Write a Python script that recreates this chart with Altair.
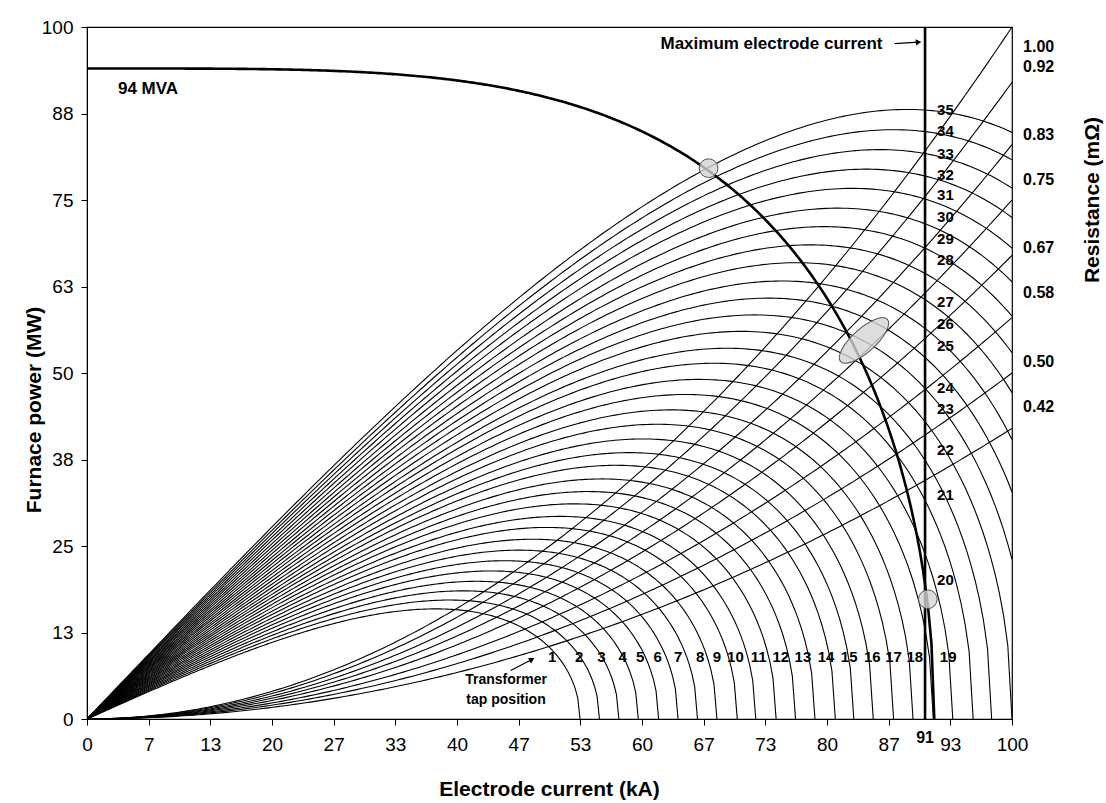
import numpy as np
import pandas as pd
import altair as alt

# ---------------- values ----------------
tap_numbers = list(range(1, 36))
# current (kA) where each tap curve meets zero power (read on the x axis;
# the taps that leave the frame on the right are estimated from their heights)
tap_end_current = [53.3, 55.4, 57.5, 59.6, 61.8, 63.9, 66.0, 68.1, 70.3, 72.3,
                   74.5, 76.6, 78.7, 80.9, 82.9, 85.0, 87.2, 89.3, 91.5, 93.6,
                   95.8, 97.8, 100.0, 102.1, 104.2, 106.3, 108.5, 110.6, 112.7, 114.8,
                   117.0, 119.1, 121.2, 123.3, 125.4]
resistance_labels = ["1.00", "0.92", "0.83", "0.75", "0.67", "0.58", "0.50", "0.42"]
resistance_power_at_100kA = [100, 92, 83, 75, 67, 58, 50, 42]   # MW where each line meets the right edge
resistance_label_y = [97.1, 94.2, 84.4, 77.9, 68.0, 61.5, 51.6, 45.1]
mva_rating = 94            # MVA curve level
mva_zero_current = 91.6    # kA where the 94 MVA curve reaches 0 MW
max_current = 90.6         # kA, "Maximum electrode current"

right_tap_labels = list(range(20, 36))
right_tap_label_y = [20.1, 32.4, 38.9, 44.8, 47.8, 53.9, 57.1, 60.2, 66.3, 69.4,
                     72.5, 75.7, 78.6, 81.7, 84.9, 88.0]
bottom_tap_labels = list(range(1, 20))
bottom_tap_label_x = [50.3, 53.2, 55.6, 57.9, 59.8, 61.7, 63.9, 66.3, 68.1, 70.1,
                      72.6, 75.0, 77.4, 79.9, 82.4, 84.9, 87.2, 89.5, 93.1]
bottom_tap_label_y = 8.9

marker_x = [67.2, 90.9]
marker_y = [79.6, 17.3]
ellipse_x = [84.0]
ellipse_y = [54.7]

x_tick_values = [i * 100 / 15 for i in range(16)]
y_tick_values = [i * 12.5 for i in range(9)]

FONT = "Liberation Sans"
W, H = 925, 692

# ---------------- build tables ----------------
reactance = mva_rating / mva_zero_current ** 2   # MVAr per kA^2 (circle diagram)

rows = []
for tap, isc in zip(tap_numbers, tap_end_current):
    end = min(isc, 100.0)
    cur = np.linspace(0, end, 220)
    p = reactance * cur * np.sqrt(np.clip(isc ** 2 - cur ** 2, 0, None))
    for c, v in zip(cur, p):
        rows.append({"I": c, "P": v, "tap": tap})
taps_df = pd.DataFrame(rows)

rows = []
for lab, pend in zip(resistance_labels, resistance_power_at_100kA):
    cur = np.linspace(0, 100, 200)
    for c in cur:
        rows.append({"I": c, "P": pend * (c / 100) ** 2, "R": lab})
res_df = pd.DataFrame(rows)

cur = np.linspace(0, mva_zero_current, 300)
mva_df = pd.DataFrame({"I": cur, "P": np.sqrt(np.clip(mva_rating ** 2 - (reactance * cur ** 2) ** 2, 0, None))})

xs = alt.Scale(domain=[0, 100], nice=False, zero=True)
ys = alt.Scale(domain=[0, 100], nice=False, zero=True)

x_axis = alt.Axis(values=x_tick_values, labelExpr="format(datum.value, '.0f')", title=None,
                  grid=False, tickSize=6, labelPadding=10, labelFontSize=19, labelFont=FONT,
                  labelColor="black", domainColor="black", tickColor="black", labelFlush=False)
y_axis = alt.Axis(values=y_tick_values, labelExpr="format(datum.value, '.0f')", title=None,
                  grid=False, tickSize=6, labelPadding=8, labelFontSize=19, labelFont=FONT,
                  labelColor="black", domainColor="black", tickColor="black", labelFlush=False)

base_taps = alt.Chart(taps_df).mark_line(color="black", strokeWidth=1.1, clip=True).encode(
    x=alt.X("I:Q", scale=xs, axis=x_axis),
    y=alt.Y("P:Q", scale=ys, axis=y_axis),
    detail="tap:N",
    order="I:Q",
)

res_lines = alt.Chart(res_df).mark_line(color="black", strokeWidth=1.1, clip=True).encode(
    x=alt.X("I:Q", scale=xs), y=alt.Y("P:Q", scale=ys), detail="R:N", order="I:Q")

mva_line = alt.Chart(mva_df).mark_line(color="black", strokeWidth=2.6).encode(
    x=alt.X("I:Q", scale=xs), y=alt.Y("P:Q", scale=ys), order="I:Q")

vline = alt.Chart(pd.DataFrame({"x": [max_current], "y": [0], "y2": [100]})).mark_rule(
    color="black", strokeWidth=2.6).encode(
    x=alt.X("x:Q", scale=xs), y=alt.Y("y:Q", scale=ys), y2="y2:Q")

circles = alt.Chart(pd.DataFrame({"x": marker_x, "y": marker_y})).mark_point(
    shape="circle", filled=True, size=350, fill="#d4d4d4", fillOpacity=0.8,
    stroke="#555555", strokeWidth=1, opacity=1).encode(
    x=alt.X("x:Q", scale=xs), y=alt.Y("y:Q", scale=ys))

ell_path = ("M -1 0 C -1 -0.204 -0.5523 -0.37 0 -0.37 C 0.5523 -0.37 1 -0.204 1 0 "
            "C 1 0.204 0.5523 0.37 0 0.37 C -0.5523 0.37 -1 0.204 -1 0 Z")
ellipse = alt.Chart(pd.DataFrame({"x": ellipse_x, "y": ellipse_y})).mark_point(
    shape=ell_path, filled=True, size=3969, angle=318, fill="#d4d4d4", fillOpacity=0.8,
    stroke="#555555", strokeWidth=1, opacity=1).encode(
    x=alt.X("x:Q", scale=xs), y=alt.Y("y:Q", scale=ys))

def texts(df, align="left", size=15, weight="bold", baseline="middle"):
    return alt.Chart(df).mark_text(align=align, baseline=baseline, font=FONT, fontSize=size,
                                   fontWeight=weight, color="black").encode(
        x=alt.X("x:Q", scale=xs), y=alt.Y("y:Q", scale=ys), text="t:N")

right_tap_txt = texts(pd.DataFrame({"x": [91.9] * len(right_tap_labels), "y": right_tap_label_y,
                                    "t": [str(v) for v in right_tap_labels]}))
bottom_tap_txt = texts(pd.DataFrame({"x": bottom_tap_label_x, "y": [bottom_tap_label_y] * len(bottom_tap_labels),
                                     "t": [str(v) for v in bottom_tap_labels]}), align="center")
res_txt = texts(pd.DataFrame({"x": [101.2] * len(resistance_labels), "y": resistance_label_y,
                              "t": resistance_labels}), size=16)
misc_txt = texts(pd.DataFrame({"x": [6.6], "y": [91.1], "t": ["94 MVA"]}), align="center", size=17)
max_txt = texts(pd.DataFrame({"x": [86.0], "y": [97.6], "t": ["Maximum electrode current"]}), align="right", size=17)
trans_txt = texts(pd.DataFrame({"x": [45.3, 45.3], "y": [5.6, 2.7], "t": ["Transformer", "tap position"]}),
                  align="center", size=14)

arrows = pd.DataFrame({"x": [87.3, 45.8], "y": [97.6, 7.0], "x2": [89.9, 48.1], "y2": [97.8, 8.6]})
arrow_lines = alt.Chart(arrows).mark_rule(color="black", strokeWidth=1.2).encode(
    x=alt.X("x:Q", scale=xs), y=alt.Y("y:Q", scale=ys), x2="x2:Q", y2="y2:Q")
heads = pd.DataFrame({"x": [89.9, 48.1], "y": [97.8, 8.6], "a": [357, 330]})
arrow_heads = alt.Chart(heads).mark_point(shape="triangle-right", filled=True, size=40,
                                          color="black", opacity=1).encode(
    x=alt.X("x:Q", scale=xs), y=alt.Y("y:Q", scale=ys), angle=alt.Angle("a:Q", scale=None))

one = pd.DataFrame({"k": [0]})
label91 = alt.Chart(pd.DataFrame({"x": [max_current]})).mark_text(
    font=FONT, fontSize=16, fontWeight="bold", color="black", baseline="middle").encode(
    x=alt.X("x:Q", scale=xs), y=alt.value(H + 19), text=alt.value("91"))
xtitle = alt.Chart(one).mark_text(font=FONT, fontSize=21, fontWeight="bold", color="black",
                                  baseline="middle").encode(
    x=alt.value(W / 2), y=alt.value(H + 71), text=alt.value("Electrode current (kA)"))
ytitle = alt.Chart(one).mark_text(font=FONT, fontSize=21, fontWeight="bold", color="black",
                                  baseline="middle", angle=270).encode(
    x=alt.value(-52), y=alt.value(383), text=alt.value("Furnace power (MW)"))
rtitle = alt.Chart(one).mark_text(font=FONT, fontSize=21, fontWeight="bold", color="black",
                                  baseline="middle", angle=270).encode(
    x=alt.value(1006), y=alt.value(173), text=alt.value("Resistance (mΩ)"))

chart = alt.layer(
    base_taps, res_lines, mva_line, vline, circles, ellipse,
    right_tap_txt, bottom_tap_txt, res_txt, misc_txt, max_txt, trans_txt,
    arrow_lines, arrow_heads, label91, xtitle, ytitle, rtitle,
).properties(
    width=W, height=H,
    autosize=alt.AutoSizeParams(type="none"),
    padding={"left": 87, "top": 27, "right": 94, "bottom": 84},
    background="white",
).configure_view(stroke="black", strokeWidth=1.2)

chart.save("out.html", embed_options={"renderer": "svg", "actions": False})
